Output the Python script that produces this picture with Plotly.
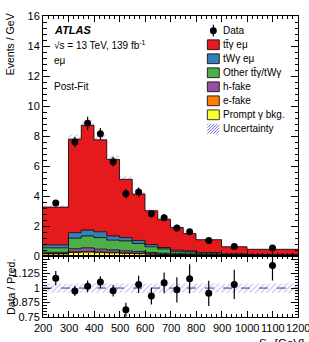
import numpy as np
import plotly.graph_objects as go

# ---------------- data ----------------
bin_edges = [200, 300, 350, 400, 450, 500, 550, 600, 650, 700, 750, 800, 900, 1000, 1200]
prompt_bkg = [0.15, 0.25, 0.27, 0.24, 0.22, 0.19, 0.17, 0.13, 0.11, 0.09, 0.08, 0.06, 0.04, 0.03]
e_fake = [0.03, 0.05, 0.05, 0.05, 0.04, 0.04, 0.03, 0.03, 0.02, 0.02, 0.02, 0.01, 0.01, 0.01]
h_fake = [0.08, 0.20, 0.24, 0.18, 0.16, 0.13, 0.12, 0.09, 0.07, 0.06, 0.05, 0.04, 0.03, 0.02]
other_tty = [0.30, 0.70, 0.79, 0.77, 0.65, 0.66, 0.53, 0.38, 0.28, 0.13, 0.13, 0.09, 0.04, 0.03]
twy_emu = [0.20, 0.37, 0.39, 0.39, 0.28, 0.22, 0.20, 0.15, 0.10, 0.10, 0.07, 0.05, 0.04, 0.03]
tty_emu = [2.51, 6.23, 6.98, 6.12, 5.10, 3.88, 3.09, 2.25, 1.88, 1.51, 1.16, 0.85, 0.47, 0.34]
data_vals = [3.55, 7.60, 8.85, 8.15, 6.30, 4.16, 4.27, 2.82, 2.57, 1.88, 1.63, 1.05, 0.65, 0.55]
data_err = [0.20, 0.34, 0.44, 0.39, 0.32, 0.31, 0.31, 0.22, 0.22, 0.21, 0.19, 0.12, 0.08, 0.06]
unc_rel = [0.040, 0.040, 0.040, 0.040, 0.040, 0.040, 0.040, 0.040, 0.040, 0.040, 0.040, 0.040, 0.040, 0.040]
x_tick_labels = [200, 300, 400, 500, 600, 700, 800, 900, 1000, 1100, 1200]

components = [
    ("Prompt γ bkg.", prompt_bkg, "#ffff33"),
    ("e-fake", e_fake, "#ff7f00"),
    ("h-fake", h_fake, "#984ea3"),
    ("Other tt̄γ/tWγ", other_tty, "#4daf4a"),
    ("tWγ eμ", twy_emu, "#377eb8"),
    ("tt̄γ eμ", tty_emu, "#e41a1c"),
]

edges = np.array(bin_edges, dtype=float)
centers = 0.5 * (edges[:-1] + edges[1:])
widths = np.diff(edges)
total = np.sum([np.array(c[1]) for c in components], axis=0)
unc = np.array(unc_rel)
data = np.array(data_vals)
derr = np.array(data_err)
ratio = data / total
ratio_err = derr / total

# ---------------- geometry (pixels) ----------------
W, H = 309, 342
ML, MR, MT, MB = 43, 10, 10, 25
PW, PH = W - ML - MR, H - MT - MB


def px(x):
    return (x - ML) / PW


def py(y):
    return (H - MB - y) / PH


split = py(255)
FONT = "Liberation Sans, Arial, Helvetica, sans-serif"
HATCH = "#6b6be0"

fig = go.Figure()

# stacked histogram
for name, vals, col in components:
    fig.add_trace(go.Scatter(
        x=edges, y=list(vals) + [vals[-1]], stackgroup="stack", mode="lines",
        line=dict(shape="hv", color="black", width=0.8), fillcolor=col,
        name=name, showlegend=False, xaxis="x", yaxis="y", hoverinfo="skip"))

# uncertainty band (main)
fig.add_trace(go.Bar(
    x=centers, y=2 * total * unc, base=total * (1 - unc), width=widths,
    marker=dict(color="rgba(0,0,0,0)", line=dict(width=0),
                pattern=dict(shape="/", fgcolor=HATCH, bgcolor="rgba(0,0,0,0)",
                             size=4, solidity=0.25, fillmode="overlay")),
    showlegend=False, xaxis="x", yaxis="y", hoverinfo="skip"))

# data
fig.add_trace(go.Scatter(
    x=centers, y=data, mode="markers",
    marker=dict(color="black", size=7),
    error_y=dict(type="data", array=derr, color="black", thickness=1.2, width=0),
    showlegend=False, xaxis="x", yaxis="y"))

# ratio band
fig.add_trace(go.Bar(
    x=centers, y=2 * unc, base=1 - unc, width=widths,
    marker=dict(color="rgba(0,0,0,0)", line=dict(width=0),
                pattern=dict(shape="/", fgcolor=HATCH, bgcolor="rgba(0,0,0,0)",
                             size=4, solidity=0.25, fillmode="overlay")),
    showlegend=False, xaxis="x2", yaxis="y2", hoverinfo="skip"))
fig.add_trace(go.Scatter(
    x=[edges[0], edges[-1]], y=[1, 1], mode="lines",
    line=dict(color="#3a3a9a", width=1, dash="dash"),
    showlegend=False, xaxis="x2", yaxis="y2", hoverinfo="skip"))
fig.add_trace(go.Scatter(
    x=centers, y=ratio, mode="markers",
    marker=dict(color="black", size=7),
    error_y=dict(type="data", array=ratio_err, color="black", thickness=1.2, width=0),
    showlegend=False, xaxis="x2", yaxis="y2"))

axis_common = dict(showline=True, linecolor="black", linewidth=1, mirror="allticks",
                   ticks="inside", tickcolor="black", showgrid=False, zeroline=False,
                   tickfont=dict(family=FONT, size=11, color="black"))

fig.update_layout(
    width=W, height=H, margin=dict(l=ML, r=MR, t=MT, b=MB),
    paper_bgcolor="white", plot_bgcolor="white", barmode="overlay",
    showlegend=False,
    xaxis=dict(range=[200, 1200], domain=[0, 1], anchor="y", showticklabels=False,
               dtick=100, tick0=200, ticklen=6,
               minor=dict(dtick=20, ticklen=3, ticks="inside", tickcolor="black"),
               **axis_common),
    yaxis=dict(range=[0, 16], domain=[split, 1], anchor="x", dtick=2, ticklen=7,
               minor=dict(dtick=0.4, ticklen=3.5, ticks="inside", tickcolor="black"),
               **axis_common),
    xaxis2=dict(range=[200, 1200], domain=[0, 1], anchor="y2", matches="x",
                dtick=100, tick0=200, ticklen=6, showticklabels=False,
                minor=dict(dtick=20, ticklen=3, ticks="inside", tickcolor="black"),
                **axis_common),
    yaxis2=dict(range=[0.75, 1.275], domain=[0, split], anchor="x2",
                tickvals=[0.75, 0.875, 1, 1.125, 1.25], ticktext=["0.75", "0.875", "1", "1.125", ""],
                ticklen=7,
                minor=dict(dtick=0.025, ticklen=3.5, ticks="inside", tickcolor="black"),
                **axis_common),
)

annots = []


def txt(x, y, s, size=10, xanchor="left", yanchor="middle", angle=0, **kw):
    annots.append(dict(x=px(x), y=py(y), xref="paper", yref="paper", text=s, showarrow=False,
                       xanchor=xanchor, yanchor=yanchor, textangle=angle,
                       font=dict(family=FONT, size=size, color="black"), **kw))


# x tick labels of the ratio axis, placed through the x2 scale
for v in x_tick_labels:
    annots.append(dict(x=v, y=py(320), xref="x2", yref="paper", text=str(v), showarrow=False,
                       xanchor="center", yanchor="top", font=dict(family=FONT, size=11, color="black")))

txt(52, 24, "<b><i>ATLAS</i></b>", size=11)
txt(52, 40, "√s = 13 TeV, 139 fb<sup>-1</sup>", size=10)
txt(52, 55, "eμ", size=10)
txt(52, 82, "Post-Fit", size=10)
txt(10, 5, "Events / GeV", size=10.5, xanchor="center", yanchor="top", angle=-90)
txt(10, 286, "Data / Pred.", size=10.5, xanchor="center", yanchor="middle", angle=-90)
txt(307, 335, "S<sub>T</sub> [GeV]", size=11.5, xanchor="right", yanchor="top")

shapes = []
# legend
row0, dy = 25, 14.3
lx0, lx1, tx = 208, 220, 222
labels = ["Data"] + [c[0] for c in reversed(components)] + ["Uncertainty"]
for i, lab in enumerate(labels):
    yc = row0 + i * dy
    txt(tx, yc, lab, size=10)
    if i == 0:
        shapes.append(dict(type="line", xref="paper", yref="paper", x0=px(214), x1=px(214),
                           y0=py(yc - 6), y1=py(yc + 6), line=dict(color="black", width=1.2)))
        shapes.append(dict(type="circle", xref="paper", yref="paper", x0=px(210.5), x1=px(217.5),
                           y0=py(yc - 3.5), y1=py(yc + 3.5), fillcolor="black", line=dict(width=0)))
    elif i <= len(components):
        col = list(reversed(components))[i - 1][2]
        shapes.append(dict(type="rect", xref="paper", yref="paper", x0=px(lx0), x1=px(lx1),
                           y0=py(yc + 5), y1=py(yc - 5), fillcolor=col,
                           line=dict(color="black", width=0.8)))
    else:
        yb, yt = yc + 5, yc - 5
        for k in range(-3, 5):
            xa, xb = lx0 + 3 * k, lx0 + 3 * k + 10
            ya, yb2 = yb, yt
            if xa < lx0:
                ya = yb - (lx0 - xa)
                xa = lx0
            if xb > lx1:
                yb2 = yt + (xb - lx1)
                xb = lx1
            if xb > xa:
                shapes.append(dict(type="line", xref="paper", yref="paper", x0=px(xa), x1=px(xb),
                                   y0=py(ya), y1=py(yb2), line=dict(color=HATCH, width=1)))

fig.update_layout(annotations=annots, shapes=shapes)
fig.write_html("out.html")
